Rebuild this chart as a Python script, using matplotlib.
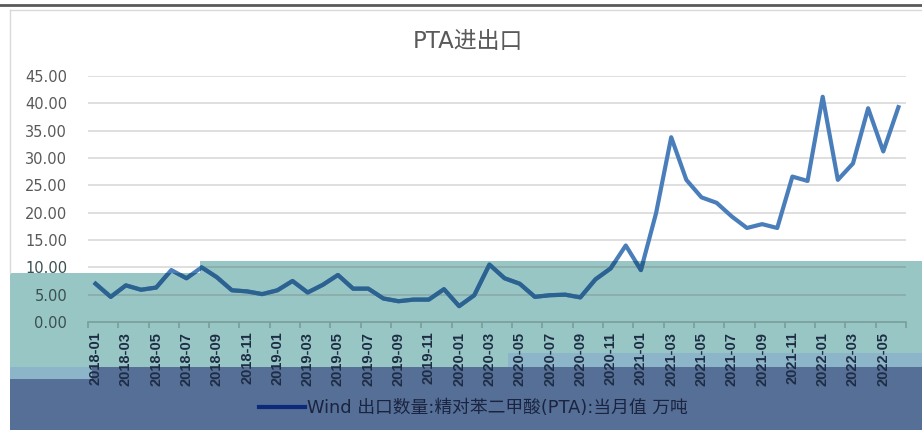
import matplotlib
matplotlib.use('Agg')
import matplotlib.pyplot as plt
import numpy as np
from matplotlib.lines import Line2D
from matplotlib.patches import Polygon

# data: PTA monthly export, 10k tons
months = [f'{y}-{m:02d}' for y in range(2018, 2023) for m in range(1, 13)][:54]
export_vals = [7.0, 4.6, 6.7, 5.9, 6.3, 9.5, 8.0, 10.0, 8.2, 5.8, 5.6, 5.1,
               5.8, 7.5, 5.4, 6.8, 8.6, 6.1, 6.1, 4.3, 3.8, 4.1, 4.1, 6.0,
               2.9, 4.9, 10.5, 8.0, 7.0, 4.6, 4.9, 5.0, 4.5, 7.8, 9.8, 14.0,
               9.5, 19.9, 33.8, 26.0, 22.8, 21.8, 19.3, 17.2, 17.9, 17.2, 26.6, 25.8,
               41.2, 26.0, 29.0, 39.1, 31.2, 39.3]
y_ticks = [0, 5, 10, 15, 20, 25, 30, 35, 40, 45]
title = 'PTA进出口'
legend_label = 'Wind 出口数量:精对苯二甲酸(PTA):当月值 万吨'

W, H = 922, 430
LINE = '#4a7ebb'
TEAL = '#97c6c4'
LIGHT = '#8db5c9'
DARK = '#566f97'


def mult(c1, c2):
    a = np.array(matplotlib.colors.to_rgb(c1))
    b = np.array(matplotlib.colors.to_rgb(c2))
    return tuple(a * b)


def px(x, y):
    return (x / W, 1 - y / H)


fig = plt.figure(figsize=(9.22, 4.30), dpi=100)
fig.patch.set_facecolor('white')

# overlay blocks seen in the screenshot
teal_pts = [px(10, 273), px(200, 273), px(200, 261), px(922, 261), px(922, 430), px(10, 430)]
fig.patches.append(Polygon(teal_pts, closed=True, transform=fig.transFigure,
                           facecolor=TEAL, edgecolor='none', zorder=-3))
fig.patches.append(Polygon([px(10, 367), px(92, 367), px(92, 379), px(10, 379)], closed=True,
                           transform=fig.transFigure, facecolor=LIGHT, edgecolor='none', zorder=-2))
fig.patches.append(Polygon([px(508, 353), px(922, 353), px(922, 367), px(508, 367)], closed=True,
                           transform=fig.transFigure, facecolor=LIGHT, edgecolor='none', zorder=-2))
fig.patches.append(Polygon([px(10, 379), px(92, 379), px(92, 367), px(922, 367), px(922, 430), px(10, 430)],
                           closed=True, transform=fig.transFigure, facecolor=DARK, edgecolor='none', zorder=-2))

# frame lines
fig.add_artist(Line2D([0, 1], [1 - 5 / H, 1 - 5 / H], transform=fig.transFigure, color='#5a5a5a', lw=2))
fig.add_artist(Line2D([10 / W, 1], [1 - 10 / H, 1 - 10 / H], transform=fig.transFigure, color='#d9d9d9', lw=1))
fig.add_artist(Line2D([10 / W, 10 / W], [1 - 10 / H, 1 - 273 / H], transform=fig.transFigure, color='#d9d9d9', lw=1))

ax = fig.add_axes([88 / W, 1 - 322 / H, 818 / W, 246 / H])
ax.set_facecolor('none')
x = np.arange(len(export_vals))

ax.plot(x, export_vals, color=LINE, lw=3, solid_joinstyle='round', zorder=3)
dark_line, = ax.plot(x, export_vals, color=mult(LINE, TEAL), lw=3, solid_joinstyle='round', zorder=4)
dark_line.set_clip_path(Polygon(teal_pts, closed=True, transform=fig.transFigure))

for v in y_ticks[1:]:
    ax.axhline(v, color='#d9d9d9', lw=1.2, zorder=1)
    g = ax.axhline(v, color=mult('#d9d9d9', TEAL), lw=1.2, zorder=2)
    g.set_clip_path(Polygon(teal_pts, closed=True, transform=fig.transFigure))

ax.set_xlim(-0.5, len(export_vals) - 0.5)
ax.set_ylim(0, 45)
ax.set_yticks(y_ticks)
ax.set_yticklabels([f'{v:.2f}' for v in y_ticks], fontsize=10.5, family='DejaVu Sans')
for lab, v in zip(ax.get_yticklabels(), y_ticks):
    lab.set_color('#3c4f50' if v <= 10 else '#595959')
ax.tick_params(axis='y', length=0, pad=15)

ax.set_xticks(np.arange(-0.5, len(export_vals), 2))
ax.set_xticklabels([])
ax.set_xticks(x[::2], minor=True)
ax.set_xticklabels(months[::2], minor=True, rotation=90, fontsize=10.5,
                   family='Liberation Sans', fontweight='bold', color='#1e2d45', va='top')
ax.tick_params(axis='x', which='major', length=4, color='#7a9e9c', width=1.2)
ax.tick_params(axis='x', which='minor', length=0, pad=7)

for s in ['top', 'right', 'left']:
    ax.spines[s].set_visible(False)
ax.spines['bottom'].set_color('#7a9e9c')
ax.spines['bottom'].set_linewidth(1.2)

fig.text(468 / W, 1 - 42 / H, title, ha='center', va='center', fontsize=16.5,
         color='#595959', family=['DejaVu Sans', 'Noto Sans CJK SC'])

handle = Line2D([], [], color='#0d2a7a', lw=3)
ax.legend([handle], [legend_label], loc='center', bbox_to_anchor=(473 / W, 1 - 408 / H),
          bbox_transform=fig.transFigure, frameon=False, handlelength=2.6, handletextpad=0.1,
          prop={'family': ['DejaVu Sans', 'Noto Sans CJK SC'], 'size': 12.8}, labelcolor='#1a2440')

plt.savefig('out.png', dpi=100)
